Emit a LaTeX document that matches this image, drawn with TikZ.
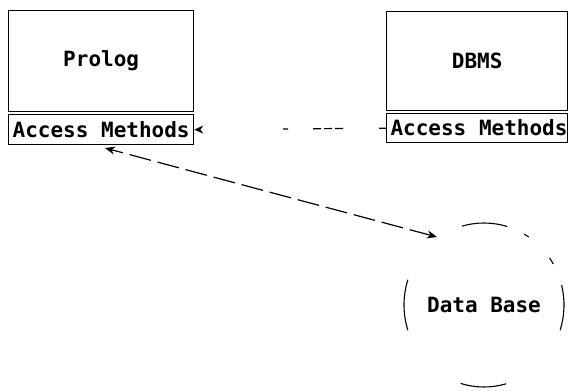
\documentclass[tikz,border=0pt]{standalone}
\usepackage{fontspec}
\newfontfamily\monob{DejaVu Sans Mono}[BoldFont={DejaVu Sans Mono Bold}]
\usetikzlibrary{arrows.meta}
\begin{document}
\begin{tikzpicture}[x=1pt,y=-1pt,
  box/.style={draw,line width=1.3pt,inner sep=0pt,anchor=north west},
  lbl/.style={font=\monob\bfseries\fontsize{21}{23}\selectfont},
  conn/.style={line width=1.2pt,dash pattern=on 22pt off 7pt,{Stealth[length=10pt,width=8pt]}-{Stealth[length=10pt,width=8pt]}},
  dbarc/.style={line width=1.1pt}]
\useasboundingbox (0,0) rectangle (568,391);
\node[box,minimum width=185pt,minimum height=101pt] (prolog) at (8,10) {};
\node[lbl] at (prolog.center) {Prolog};
\node[box,minimum width=185pt,minimum height=30pt] (pam) at (8,114) {};
\node[lbl] at (pam.center) {Access Methods};
\node[box,minimum width=181pt,minimum height=99pt] (dbms) at (386,11) {};
\node[lbl] at (dbms.center) {DBMS};
\node[box,minimum width=181pt,minimum height=29pt] (dam) at (386,113) {};
\node[lbl,anchor=west] at ([xshift=1pt]dam.west) {Access Methods};
\node[lbl,minimum width=160pt,minimum height=164pt,inner sep=0pt] (db) at (484,305) {Data Base};
\draw[line width=1.2pt,dash pattern=on 7pt off 36pt on 8pt off 3pt on 8pt off 3pt on 8pt off 25pt on 5pt off 200pt,-{Stealth[length=9pt,width=8pt]}] (dam.west) -- (pam.east);
\draw[conn] (437,237) -- (105,148);
\coordinate (dbc) at (db.center);
\foreach \a/\b in {73/106,56/60,30/35,-18/14,162/198,253/286}{
  \draw[dbarc] ([shift={(-\a:80 and 82)}]dbc) arc[start angle=-\a,end angle=-\b,x radius=80,y radius=82];
}
\end{tikzpicture}
\end{document}
